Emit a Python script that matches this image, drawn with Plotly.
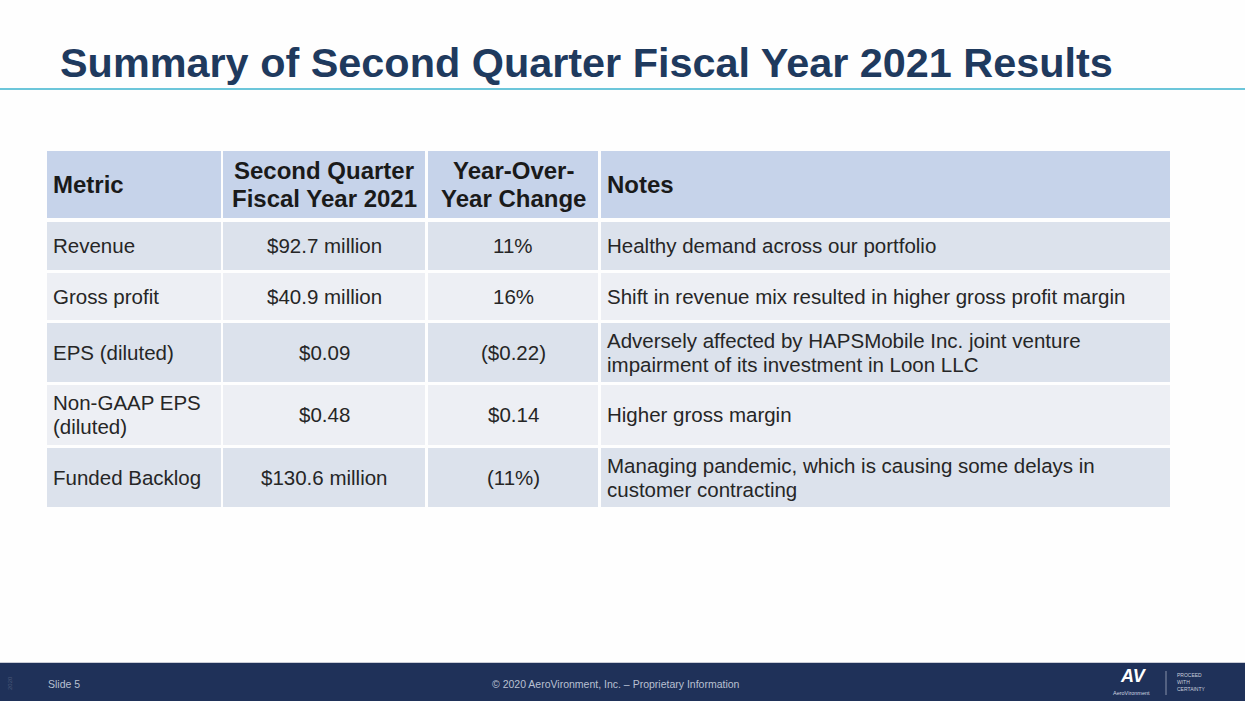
import plotly.graph_objects as go

# ---------------- data ----------------
title_text = "Summary of Second Quarter Fiscal Year 2021 Results"
headers = ["Metric", "Second Quarter<br>Fiscal Year 2021", "Year-Over-<br>Year Change", "Notes"]
metrics = ["Revenue", "Gross profit", "EPS (diluted)", "Non-GAAP EPS<br>(diluted)", "Funded Backlog"]
q2_values = ["$92.7 million", "$40.9 million", "$0.09", "$0.48", "$130.6 million"]
yoy_change = ["11%", "16%", "($0.22)", "$0.14", "(11%)"]
notes = [
    "Healthy demand across our portfolio",
    "Shift in revenue mix resulted in higher gross profit margin",
    "Adversely affected by HAPSMobile Inc. joint venture<br>impairment of its investment in Loon LLC",
    "Higher gross margin",
    "Managing pandemic, which is causing some delays in<br>customer contracting",
]
footer_left = "Slide 5"
footer_center = "© 2020 AeroVironment, Inc. – Proprietary Information"

# ---------------- layout geometry (pixels) ----------------
W, H = 1245, 701
col_x0 = [47, 223, 428, 601]
col_x1 = [221, 425, 598, 1170]
col_align = ["left", "center", "center", "left"]
row_y0 = [151, 222, 273, 323, 385, 448]
row_y1 = [218, 270, 320, 382, 445, 507]
row_fill = ["#C6D3EA", "#DCE2EC", "#EDEFF4", "#DCE2EC", "#EDEFF4", "#DCE2EC"]
FONT = "Liberation Sans, Arial, sans-serif"

fig = go.Figure()
shapes = []
annotations = []

# background
shapes.append(dict(type="rect", x0=0, x1=W, y0=0, y1=H, fillcolor="#FEFEFE", line_width=0, layer="below"))

# title
annotations.append(dict(x=58, y=63, text="<b>" + title_text + "</b>", xanchor="left", yanchor="middle",
                        showarrow=False, font=dict(family=FONT, size=41.4, color="#1F3A5E")))
shapes.append(dict(type="line", x0=0, x1=W, y0=89, y1=89, line=dict(color="#6CC6DA", width=2)))

# table
rows = [headers] + [list(r) for r in zip(metrics, q2_values, yoy_change, notes)]
for ri, row in enumerate(rows):
    y0, y1 = row_y0[ri], row_y1[ri]
    yc = (y0 + y1) / 2 - 0.5
    is_header = ri == 0
    fsize = 24 if is_header else 20.5
    lh = 28 if is_header else 24
    for ci, txt in enumerate(row):
        shapes.append(dict(type="rect", x0=col_x0[ci], x1=col_x1[ci], y0=y0, y1=y1,
                           fillcolor=row_fill[ri], line_width=0, layer="below"))
        lines = txt.split("<br>")
        n = len(lines)
        if col_align[ci] == "left":
            x, xa = col_x0[ci] + 4, "left"
        else:
            x, xa = (col_x0[ci] + col_x1[ci]) / 2, "center"
        for li, ln in enumerate(lines):
            yy = yc + (li - (n - 1) / 2) * lh
            annotations.append(dict(x=x, y=yy, text=("<b>" + ln + "</b>") if is_header else ln,
                                    xanchor=xa, yanchor="middle", showarrow=False,
                                    font=dict(family=FONT, size=fsize, color="#1A1A1A" if is_header else "#262626")))

# footer bar
shapes.append(dict(type="line", x0=0, x1=W, y0=662.5, y1=662.5, line=dict(color="#C9CCD6", width=1)))
shapes.append(dict(type="rect", x0=0, x1=W, y0=663, y1=H, fillcolor="#1F3159", line_width=0))
annotations.append(dict(x=46, y=684, text=footer_left, xanchor="left", yanchor="middle", showarrow=False,
                        font=dict(family=FONT, size=10.5, color="#B9C0D2")))
annotations.append(dict(x=616, y=684, text=footer_center, xanchor="center", yanchor="middle", showarrow=False,
                        font=dict(family=FONT, size=10.5, color="#B9C0D2")))
annotations.append(dict(x=10, y=683, text="2020", textangle=-90, xanchor="center", yanchor="middle",
                        showarrow=False, font=dict(family=FONT, size=6, color="#4A5878")))
# logo
annotations.append(dict(x=1133, y=676, text="<b><i>AV</i></b>", xanchor="center", yanchor="middle",
                        showarrow=False, font=dict(family=FONT, size=18, color="#FFFFFF")))
annotations.append(dict(x=1131, y=692.5, text="AeroVironment", xanchor="center", yanchor="middle",
                        showarrow=False, font=dict(family=FONT, size=5.5, color="#D0D5E0")))
shapes.append(dict(type="line", x0=1166, x1=1166, y0=671, y1=695, line=dict(color="#8892AA", width=1)))
for i, w in enumerate(["PROCEED", "WITH", "CERTAINTY"]):
    annotations.append(dict(x=1175, y=675 + i * 7, text=w, xanchor="left", yanchor="middle",
                            showarrow=False, font=dict(family=FONT, size=5, color="#C8CEDC")))

fig.update_layout(
    width=W, height=H, margin=dict(l=0, r=0, t=0, b=0),
    paper_bgcolor="#FEFEFE", plot_bgcolor="#FEFEFE",
    xaxis=dict(range=[0, W], visible=False, fixedrange=True),
    yaxis=dict(range=[H, 0], visible=False, fixedrange=True),
    shapes=shapes, annotations=annotations, showlegend=False,
)
fig.write_html("out.html", config={"displayModeBar": False},
               post_script="document.body.style.margin='0';document.body.style.overflow='hidden';")
